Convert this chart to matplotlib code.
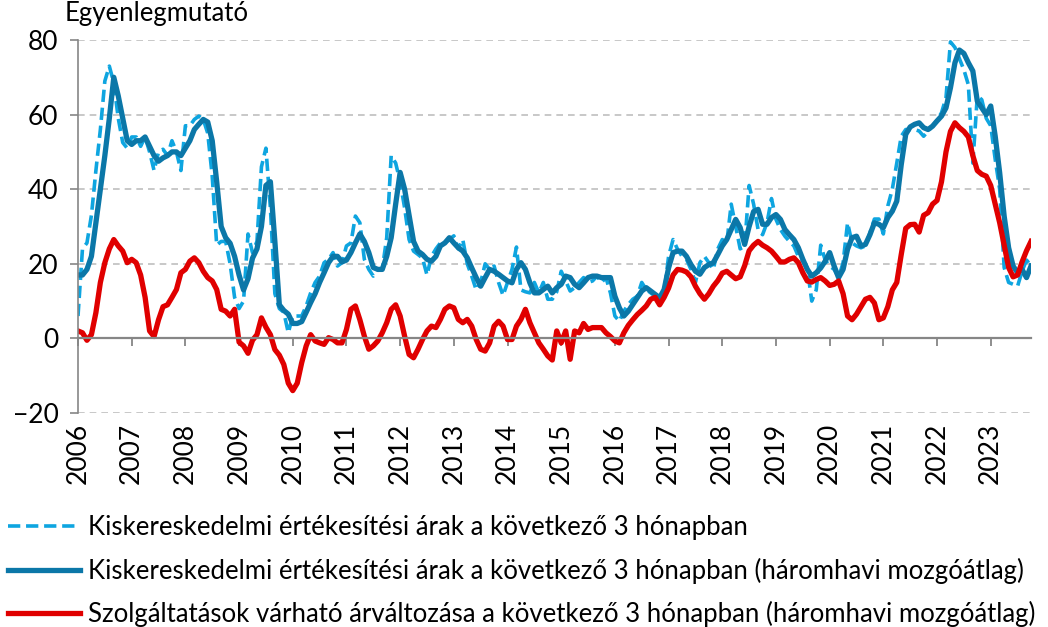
import matplotlib
matplotlib.use("Agg")
import matplotlib.pyplot as plt
from matplotlib.lines import Line2D
import numpy as np

plt.rcParams['font.family'] = ['Lato', 'DejaVu Sans']

# monthly values, Jan 2006 - Oct 2023
retail_raw = [
    6, 24, 25.6, 33, 45, 56, 69, 73, 68.5, 59, 52.5, 51,            # 2006
    54, 54, 51.5, 54, 50, 45, 50, 50.7, 49, 53, 50, 45,             # 2007
    57, 57, 58.7, 59.6, 58.7, 55, 43.5, 25, 26, 26, 20, 11,         # 2008
    8, 10, 28, 23, 26, 46, 51, 35, 12, 8, 7, 1.5,                   # 2009
    6, 6, 6, 8.7, 12.2, 15, 16.7, 20.3, 21.2, 23, 19.4, 20.3,       # 2010
    24.8, 25.6, 32.8, 31, 21.2, 18.5, 16.7, 18.5, 18.5, 27, 49, 47, # 2011
    42, 35, 26.5, 23.4, 22.5, 21.5, 17, 22, 24, 25.6, 25.6, 26.5,   # 2012
    27.5, 24, 26.5, 20, 16.7, 13, 15, 20, 18.5, 19.4, 15, 11.5,     # 2013
    15, 18.5, 24.5, 13, 12.5, 12.2, 15, 12.2, 15, 10.5, 10.5, 12.5, # 2014
    18, 15.4, 12.7, 13.6, 15, 16.3, 15, 15.4, 16.7, 15, 16.3, 12.2, # 2015
    6, 4.6, 7.3, 9.1, 10.5, 11.3, 15, 13.1, 12.2, 11.3, 9.1, 12.2,  # 2016
    22, 26.5, 23.9, 22, 21.2, 18.5, 15, 20.3, 22, 20.3, 18.5, 24,   # 2017
    26.5, 25.6, 36, 30, 24, 24.8, 41, 36, 29.2, 27.8, 31, 37.5,     # 2018
    31.9, 29.2, 27.4, 26, 24.8, 22, 20.7, 18.9, 10, 13, 25, 21,     # 2019
    19.4, 18.5, 16.3, 20.3, 31, 25.6, 24.8, 24.3, 24.8, 28.3, 32, 32,  # 2020
    28, 35.5, 40, 47, 54.2, 56, 56, 56, 55.6, 54.2, 55.6, 56.9,     # 2021
    58.5, 60.5, 64.5, 79.5, 78, 75, 72, 68, 47, 65, 64, 59,         # 2022
    57, 48, 40, 19, 15, 14.5, 14, 18, 21, 19.5,                     # 2023
]

retail_ma = [
    17, 17, 18.5, 22, 31, 40, 49, 59, 70, 65, 59, 53,
    52, 53, 53, 54, 51.5, 49, 47.5, 48.4, 49, 50, 50, 49,
    51, 53, 56, 57.4, 58.7, 58, 53, 42, 30, 27, 25.5, 22,
    17, 13, 16, 21.5, 24, 30, 41, 42, 26, 9, 7.5, 6.5,
    4, 4, 4.5, 7, 9.6, 12, 15, 17.6, 20.3, 22, 22, 20.5,
    21, 23, 25.6, 28, 26, 23, 19, 18.5, 18.5, 22, 27, 36,
    44.5, 40, 33, 26, 23.4, 22.5, 21.2, 20.7, 22, 24.8, 25.6, 27,
    25.6, 24.3, 23.4, 21.6, 18.9, 16.3, 14, 16.3, 18.5, 18, 17.2, 16.3,
    15.4, 14.9, 18.5, 20.3, 18.5, 14.9, 12.2, 12.2, 13.1, 14, 12.2, 13.6,
    14.5, 16.7, 16.3, 14.5, 13.6, 14.9, 16.3, 16.7, 16.7, 16.3, 16.3, 16.3,
    11.3, 8.2, 6, 7.3, 9.1, 10.9, 12.7, 13.6, 12.7, 11.8, 10.9, 13.1,
    18.9, 23, 23.4, 23.4, 22, 19.8, 18, 17.2, 19, 19.8, 20.3, 22.5,
    24.8, 26.5, 29.2, 31.9, 29.7, 25.2, 30, 34, 34.6, 30.6, 30.6, 32.4,
    33.2, 31.9, 29.2, 27.8, 26.5, 24.3, 21.2, 18.5, 16.7, 17.6, 18.9, 20.7,
    23, 19.4, 16.3, 18.5, 23.9, 27, 27.4, 24.8, 25.2, 27.8, 31, 30.6,
    29.7, 32.4, 34.1, 36.8, 46.6, 54.7, 56.7, 57.4, 57.8, 56.5, 56, 56.9,
    58.3, 59.6, 61.8, 67.2, 73.9, 77.3, 76.4, 73.9, 71.7, 63.6, 61.8, 60,
    62.3, 54.2, 44.4, 32.8, 24.3, 19.4, 17.6, 18.5, 16.3, 19.4,
]

services_ma = [
    2, 1.5, -0.5, 1, 6.9, 15, 20.3, 24, 26.5, 24.8, 23.4, 20.3,
    21.2, 20.3, 17, 11, 2, 0.5, 5, 8.5, 9, 11, 13.1, 17.6,
    18.5, 20.7, 21.6, 20.3, 18, 16.3, 15.4, 13.1, 7.8, 7.3, 6, 7.8,
    -1, -2, -4, -0.5, 1, 5.5, 3, 1, -3, -4.5, -7, -12,
    -14, -12, -6.5, -2, 1, -0.7, -1.2, -1.6, 0.2, -0.3, -1.2, -1.2,
    2.4, 7.8, 8.7, 5, 0.6, -2.9, -2, -0.7, 1.5, 4.2, 7.8, 9,
    6, 0.6, -4.3, -5.2, -2.9, -0.3, 2, 3.3, 2.9, 5.1, 7.8, 8.7,
    8.2, 5.1, 4.2, 5.1, 3.3, -0.3, -2.9, -3.4, -1.2, 3.3, 4.6, 3.3,
    -0.3, -0.3, 3.3, 5.1, 7.8, 4.2, 1.5, -1.2, -2.9, -4.7, -5.8, 2,
    -1.2, 2, -5.6, 2, 1.5, 4, 2.4, 2.9, 2.9, 2.9, 1.5, 0.5,
    -0.7, -1.2, 1.5, 3.5, 5, 6.4, 7.5, 8.7, 10.5, 11, 9, 11,
    13.5, 17, 18.5, 18.3, 17.8, 16.5, 14, 12, 10.5, 12, 14, 15.5,
    17.5, 18, 17, 16, 16.5, 19.5, 23.5, 25, 26, 25, 24.3, 23.4,
    22, 20.5, 20.5, 21.2, 21.6, 20.3, 17.6, 15.4, 15.1, 15.8, 16.3, 15.4,
    14.2, 14.5, 15.4, 12, 6, 5, 6.5, 8.5, 10.5, 11, 9.5, 5,
    5.5, 8.5, 13, 15, 22.5, 29.5, 30.5, 30.6, 28.5, 33, 33.7, 36,
    37, 42, 50, 55.5, 57.8, 56.5, 55.5, 54, 49, 45, 44, 43.5,
    41, 36, 31, 25, 19, 16.5, 17, 20.5, 23.5, 26,
]

years = list(range(2006, 2024))
labels = [
    "Kiskereskedelmi értékesítési árak a következő 3 hónapban",
    "Kiskereskedelmi értékesítési árak a következő 3 hónapban (háromhavi mozgóátlag)",
    "Szolgáltatások várható árváltozása a következő 3 hónapban (háromhavi mozgóátlag)",
]
colors = ["#0ea5e0", "#0b77a8", "#e00000"]

months = np.arange(len(retail_raw))
year_pos = [12 * (y - years[0]) for y in years]

fig = plt.figure(figsize=(10.48, 6.27), dpi=100)
ax = fig.add_axes([78 / 1048, 1 - 413 / 627, (1031 - 78) / 1048, (413 - 40) / 627])

ax.plot(months, retail_raw, color=colors[0], lw=2.6, dashes=(3.4, 1.6), label=labels[0])
ax.plot(months, retail_ma, color=colors[1], lw=3.8, solid_joinstyle='round', label=labels[1])
ax.plot(months, services_ma, color=colors[2], lw=3.8, solid_joinstyle='round', label=labels[2])

ax.set_xlim(0, len(retail_raw) - 1)
ax.set_ylim(-20, 80)
ax.set_yticks(range(-20, 81, 20))
ax.yaxis.grid(True, color="#bfbfbf", lw=1.2, dashes=(4, 3))
ax.set_axisbelow(True)

for s in ["top", "right"]:
    ax.spines[s].set_visible(False)
ax.spines["left"].set_color("#868686")
ax.spines["left"].set_linewidth(1.2)
ax.spines["bottom"].set_position(("data", 0))
ax.spines["bottom"].set_color("#868686")
ax.spines["bottom"].set_linewidth(1.6)

ax.set_xticks(year_pos)
ax.set_xticklabels([])
ax.tick_params(axis="x", direction="out", length=6, width=1.3, color="#868686")
ax.tick_params(axis="y", direction="out", length=6, width=1.2, color="#868686",
               labelsize=19, pad=8)

# year labels at the bottom of the plot area
sec = ax.secondary_xaxis(0)
sec.set_xticks(year_pos)
sec.set_xticklabels([str(y) for y in years], rotation=90, fontsize=19)
sec.tick_params(length=0, pad=7)
sec.spines["bottom"].set_visible(False)

fig.text(65 / 1048, 1 - 1 / 627, "Egyenlegmutató", fontsize=18.5, va="top", ha="left")

handles = [
    Line2D([], [], color=colors[0], lw=2.6, dashes=(3.4, 1.6)),
    Line2D([], [], color=colors[1], lw=3.8),
    Line2D([], [], color=colors[2], lw=3.8),
]
fig.legend(handles, labels, loc="upper left", bbox_to_anchor=(8 / 1048, 1 - 515 / 627),
           frameon=False, fontsize=18.5, handlelength=2.8, handletextpad=0.3,
           labelspacing=0.68, borderpad=0, borderaxespad=0)

fig.savefig("out.png", dpi=100)
